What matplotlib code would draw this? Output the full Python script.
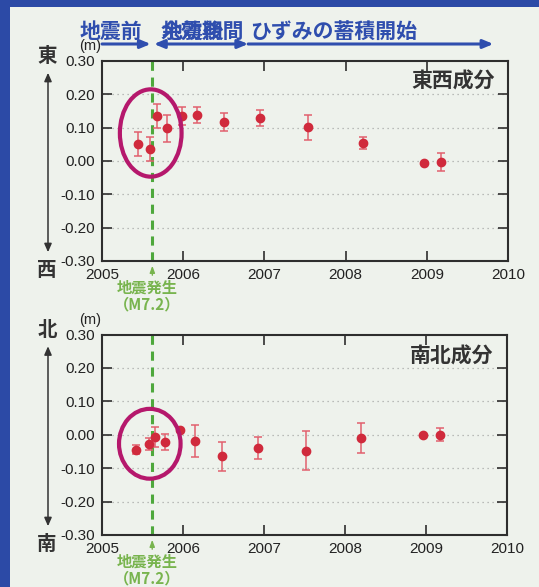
import matplotlib
matplotlib.use("Agg")
import matplotlib.pyplot as plt
import matplotlib.transforms as mtransforms
from matplotlib.patches import Ellipse, Rectangle, FancyArrowPatch

plt.rcParams["font.family"] = ["Liberation Sans", "Noto Sans CJK JP"]
plt.rcParams["axes.unicode_minus"] = False

# --- observations (decimal year, displacement in m, error in m) ---
ew_t = [2005.44, 2005.595, 2005.674, 2005.80, 2005.98, 2006.17, 2006.50,
        2006.94, 2007.54, 2008.22, 2008.97, 2009.18]
ew_v = [0.051, 0.036, 0.135, 0.098, 0.136, 0.138, 0.117,
        0.129, 0.101, 0.054, -0.006, -0.004]
ew_e = [0.035, 0.036, 0.036, 0.040, 0.027, 0.024, 0.028,
        0.024, 0.037, 0.019, 0.0, 0.027]

ns_t = [2005.42, 2005.58, 2005.66, 2005.78, 2005.96, 2006.15, 2006.48,
        2006.92, 2007.52, 2008.20, 2008.96, 2009.17]
ns_v = [-0.045, -0.027, -0.006, -0.022, 0.013, -0.020, -0.065,
        -0.040, -0.048, -0.010, 0.0, 0.0]
ns_e = [0.013, 0.018, 0.030, 0.024, 0.0, 0.048, 0.042,
        0.032, 0.058, 0.046, 0.0, 0.020]

quake_t = 2005.62
period_edges = [2005.0, 2005.62, 2006.80, 2009.82]
period_names = ["地震前", "地震後", "余効期間", "ひずみの蓄積開始"]
x_ticks = [2005, 2006, 2007, 2008, 2009, 2010]
y_ticks = [-0.30, -0.20, -0.10, 0.00, 0.10, 0.20, 0.30]
y_ticklabels = ["-0.30", "-0.20", "-0.10", "0.00", "0.10", "0.20", "0.30"]

panel_titles = ["東西成分", "南北成分"]
title_y = [0.90, 0.89]
dir_labels = [("東", "西"), ("北", "南")]
# circled span around the earthquake: (center year, center value, width, height)
ellipses = [(2005.60, 0.084, 0.76, 0.262), (2005.59, -0.027, 0.76, 0.209)]

BG = "#eef2ec"
BORDER = "#2c4aa6"
HEAD = "#2f4eae"
PT_RED = "#d02a3c"
ERR_RED = "#e2606e"
GREEN = "#4ea83c"
GREEN_TXT = "#78b44e"
RING = "#b5186c"
FRAME = "#2e2e2e"

W, H = 539, 587
fig = plt.figure(figsize=(W / 100, H / 100), dpi=100, facecolor=BG)

# page border strips
fig.patches.append(Rectangle((0, 0), 10 / W, 1, transform=fig.transFigure,
                             facecolor=BORDER, edgecolor="none", zorder=0))
fig.patches.append(Rectangle((0, 1 - 7 / H), 1, 7 / H, transform=fig.transFigure,
                             facecolor=BORDER, edgecolor="none", zorder=0))


def fx(px):
    return px / W


def fy(py):
    return 1 - py / H


ax_top = fig.add_axes([fx(102), fy(261), fx(406), 200 / H])
ax_bot = fig.add_axes([fx(102), fy(535), fx(405), 200.5 / H])

series = [(ew_t, ew_v, ew_e), (ns_t, ns_v, ns_e)]
for i, ax in enumerate([ax_top, ax_bot]):
    t, v, e = series[i]
    ax.set_facecolor("none")
    ax.set_xlim(2005, 2010)
    ax.set_ylim(-0.30, 0.30)
    ax.set_xticks(x_ticks)
    ax.set_xticklabels([str(x) for x in x_ticks])
    ax.set_yticks(y_ticks)
    ax.set_yticklabels(y_ticklabels)
    ax.tick_params(direction="in", length=7, width=1.2, color=FRAME,
                   top=True, right=True, labelsize=11, labelcolor="#222222",
                   pad=5)
    for s in ax.spines.values():
        s.set_color(FRAME)
        s.set_linewidth(1.5)
    for yv in y_ticks[1:-1]:
        ax.axhline(yv, color="#a8aaa8", lw=0.9, ls=(0, (1, 3)), zorder=1)

    # error bars only where an uncertainty is shown
    et = [a for a, c in zip(t, e) if c > 0]
    ev = [b for b, c in zip(v, e) if c > 0]
    ee = [c for c in e if c > 0]
    ax.errorbar(et, ev, yerr=ee, fmt="none", ecolor=ERR_RED, elinewidth=1.1,
                capsize=3.2, capthick=1.1, zorder=3)
    ax.plot(t, v, "o", color=PT_RED, ms=6, mec=PT_RED, zorder=4)

    ax.axvline(quake_t, color=GREEN, lw=2.2, ls=(0, (3, 2.2)), zorder=2)
    cx, cy, ew, eh = ellipses[i]
    ax.add_patch(Ellipse((cx, cy), ew, eh, fill=False, edgecolor=RING,
                         lw=3.0, zorder=5))

    ax.text(0.967, title_y[i], panel_titles[i], transform=ax.transAxes,
            ha="right", va="center", fontsize=15, fontweight="bold",
            color="#333333", family=["Noto Sans CJK JP"])

    # unit and direction markers
    bbox = ax.get_position()
    top_px = (1 - bbox.y1) * H
    bot_px = (1 - bbox.y0) * H
    fig.text(fx(90), fy(top_px - 15), "(m)", ha="center", va="center",
             fontsize=10.5, color="#222222")
    up, down = dir_labels[i]
    fig.text(fx(47), fy(top_px - 4), up, ha="center", va="center",
             fontsize=14, fontweight="bold", color="#333333",
             family=["Noto Sans CJK JP"])
    fig.text(fx(47), fy(bot_px + 10), down, ha="center", va="center",
             fontsize=14, fontweight="bold", color="#333333",
             family=["Noto Sans CJK JP"])
    fig.add_artist(FancyArrowPatch(
        (fx(48), fy(top_px + 9)), (fx(48), fy(bot_px - 6)),
        transform=fig.transFigure, arrowstyle="<|-|>,head_length=5,head_width=2.2",
        color="#333333", lw=1.1, mutation_scale=1))

    # earthquake marker below the axis
    trans = mtransforms.blended_transform_factory(ax.transData, fig.transFigure)
    ax.annotate("", xy=(quake_t, fy(bot_px + 2)), xytext=(quake_t, fy(bot_px + 17)),
                xycoords=trans, textcoords=trans,
                arrowprops=dict(arrowstyle="-|>,head_length=0.4,head_width=0.15",
                                color=GREEN_TXT, lw=1.0), annotation_clip=False)
    ax.text(quake_t - 0.06, fy(bot_px + 27), "地震発生", transform=trans,
            ha="center", va="center", fontsize=11, fontweight="bold",
            color=GREEN_TXT, family=["Noto Sans CJK JP"], clip_on=False)
    ax.text(quake_t - 0.06, fy(bot_px + 43), "（M7.2）", transform=trans,
            ha="center", va="center", fontsize=11, fontweight="bold",
            color=GREEN_TXT, family=["Noto Sans CJK JP"], clip_on=False)

# period arrows and labels above the first panel
htrans = mtransforms.blended_transform_factory(ax_top.transData, fig.transFigure)
arrow_y = fy(44)
label_y = fy(31)
segments = [
    (period_edges[0], period_edges[1] - 0.02, "-|>"),
    (period_edges[1] + 0.02, period_edges[2], "<|-|>"),
    (period_edges[2], period_edges[3], "-|>"),
]
for x0, x1, style in segments:
    ax_top.annotate("", xy=(x1, arrow_y), xytext=(x0, arrow_y),
                    xycoords=htrans, textcoords=htrans, annotation_clip=False,
                    arrowprops=dict(arrowstyle=style + ",head_length=0.6,head_width=0.25",
                                    color=HEAD, lw=2.2, shrinkA=0, shrinkB=0))

head_kw = dict(transform=fig.transFigure, ha="center", va="center", fontsize=15,
               fontweight="bold", color=HEAD, family=["Noto Sans CJK JP"])
fig.text(fx(111), label_y, period_names[0], **head_kw)
fig.text(fx(193), label_y, period_names[1], **head_kw)
fig.text(fx(202), label_y, period_names[2], **head_kw)
fig.text(fx(334), label_y, period_names[3], **head_kw)

fig.savefig("out.png", dpi=100, facecolor=BG)
